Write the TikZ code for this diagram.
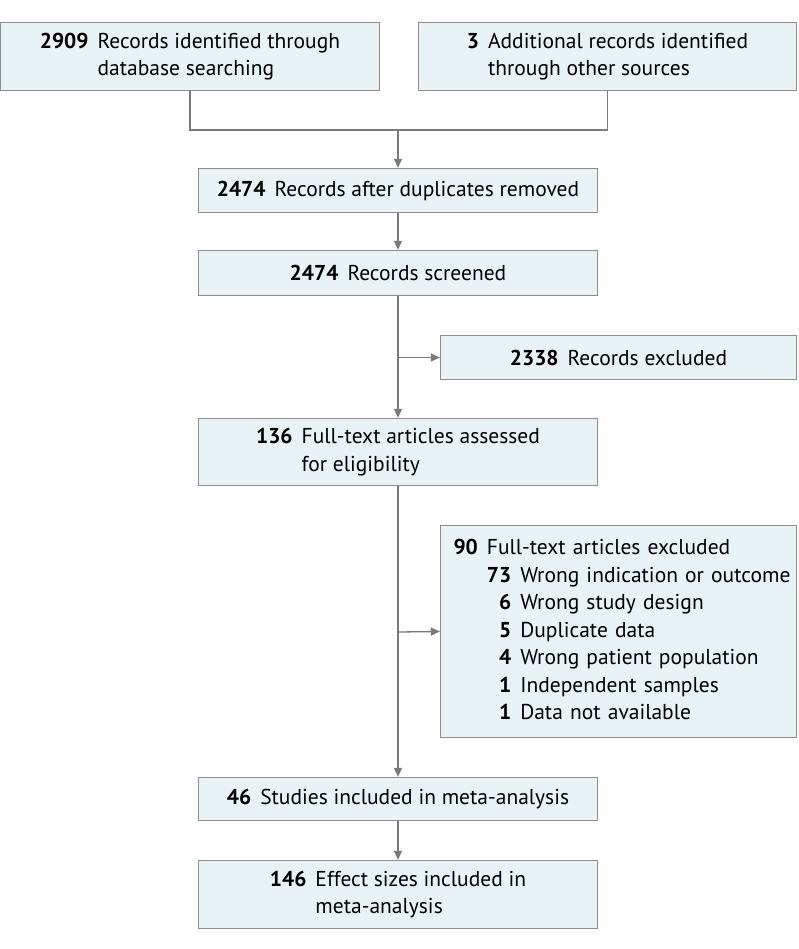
\documentclass[tikz,border=0pt]{standalone}
\usepackage{fontspec}
\setmainfont{PT Sans}
\usetikzlibrary{arrows.meta,positioning}
\definecolor{boxfill}{HTML}{E9F3F5}
\definecolor{boxline}{HTML}{8E8E8E}
\definecolor{conn}{HTML}{7A7A7A}
\tikzset{
  fbox/.style={draw=boxline, fill=boxfill, line width=1.3pt, inner sep=0pt, align=center, font=\fontsize{21.5}{27.5}\selectfont},
  conline/.style={draw=conn, line width=1.3pt},
  arr/.style={conline, -{Triangle[length=9pt,width=8pt]}},
}
\newcommand{\gp}{\hspace{9pt}}
\begin{document}
\begin{tikzpicture}[x=1pt,y=-1pt]
\useasboundingbox (0,0) rectangle (798,949);
\node[fbox, minimum width=379pt, minimum height=68pt] (A) at (190,56.5)
  {\begin{tabular}{@{}l@{\gp}l@{}}\textbf{2909} & Records identified through\\ & database searching\end{tabular}};
\node[fbox, minimum width=378pt, minimum height=68pt] (B) at (607.5,56.5)
  {\begin{tabular}{@{}l@{\gp}l@{}}\textbf{3} & Additional records identified\\ & through other sources\end{tabular}};
\node[fbox, minimum width=399pt, minimum height=44pt] (C) at (398,190.5)
  {\textbf{2474}\gp Records after duplicates removed};
\node[fbox, minimum width=399pt, minimum height=45pt] (D) at (398,273)
  {\textbf{2474}\gp Records screened};
\node[fbox, minimum width=356pt, minimum height=44pt] (F) at (618.5,357.5)
  {\textbf{2338}\gp Records excluded};
\node[fbox, minimum width=399pt, minimum height=67pt] (E) at (398,452)
  {\begin{tabular}{@{}l@{\gp}l@{}}\textbf{136} & Full-text articles assessed\\ & for eligibility\end{tabular}};
\node[fbox, minimum width=356pt, minimum height=212pt, text width=330pt, align=left] (H) at (618.5,631.5)
  {\begin{tabular}{@{}l@{\gp}r@{\gp}l@{}}
   \textbf{90} & \multicolumn{2}{@{}l@{}}{Full-text articles excluded}\\
   & \textbf{73} & Wrong indication or outcome\\
   & \textbf{6} & Wrong study design\\
   & \textbf{5} & Duplicate data\\
   & \textbf{4} & Wrong patient population\\
   & \textbf{1} & Independent samples\\
   & \textbf{1} & Data not available
   \end{tabular}};
\node[fbox, minimum width=399pt, minimum height=43pt] (G) at (398,799)
  {\textbf{46}\gp Studies included in meta-analysis};
\node[fbox, minimum width=399pt, minimum height=68pt] (I) at (398,894.5)
  {\begin{tabular}{@{}l@{\gp}l@{}}\textbf{146} & Effect sizes included in\\ & meta-analysis\end{tabular}};
\coordinate (m) at (398,130);
\coordinate (b1) at (398,357.5);
\coordinate (b2) at (398,632);
\draw[conline] (A.south) |- (m) -| (B.south);
\draw[arr] (m) -- (C.north);
\draw[arr] (C) -- (D);
\draw[arr] (D.south) -- (E.north);
\draw[arr] (b1) -- (F.west);
\draw[arr] (E.south) -- (G.north);
\draw[arr] (b2) -- (H.west);
\draw[arr] (G) -- (I);
\end{tikzpicture}
\end{document}
